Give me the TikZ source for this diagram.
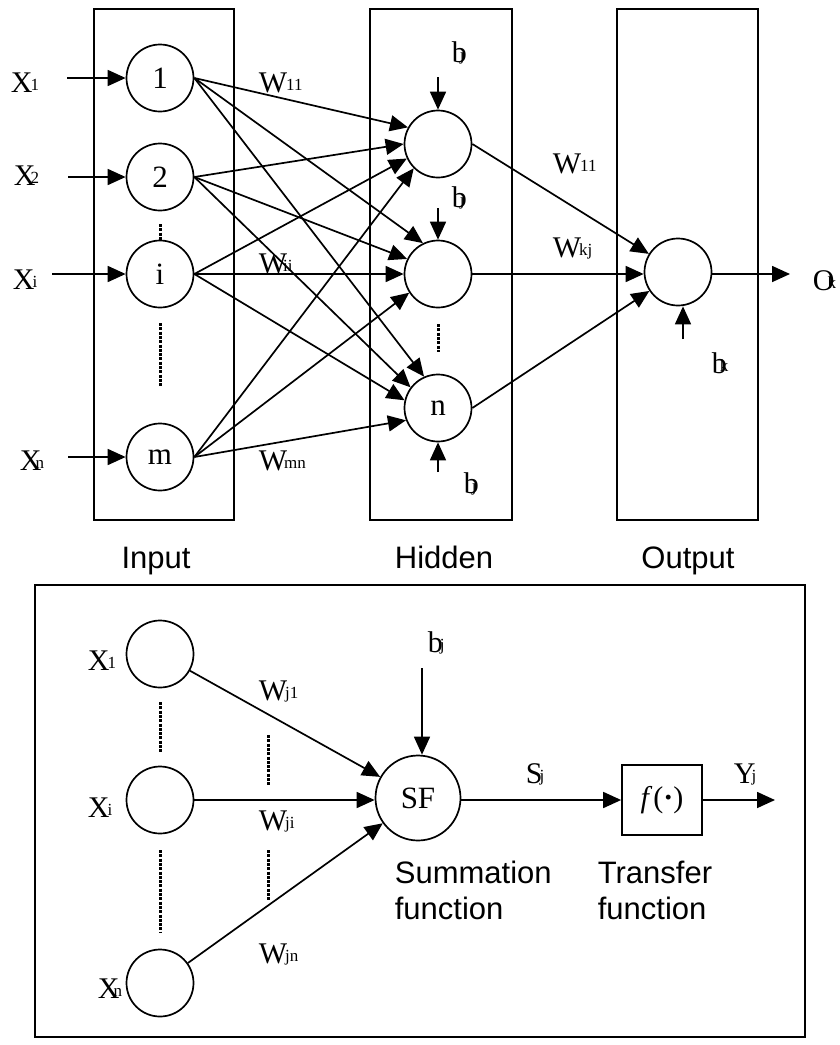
\documentclass[tikz,border=0pt]{standalone}
\usepackage{fontspec}
\setmainfont{Liberation Serif}
\newfontfamily\arialf{Liberation Sans}
\usetikzlibrary{arrows.meta}
\newcommand\lsub[3][-1pt]{#2\kern#1\raisebox{2pt}{\fontsize{17}{17}\selectfont #3}}
\begin{document}
\begin{tikzpicture}[x=1pt,y=-1pt,line width=1.7pt,
  neuron/.style={circle,draw,line width=1.7pt,minimum size=67pt,inner sep=0pt,font=\fontsize{31}{31}\selectfont},
  layerbox/.style={draw,line width=1.7pt},
  arr/.style={-{Triangle[length=18pt,width=16pt]}},
  lab/.style={inner sep=0pt,anchor=base west,font=\fontsize{30}{30}\selectfont},
  capt/.style={inner sep=0pt,anchor=base,font=\arialf\fontsize{31}{36}\selectfont},
  capml/.style={inner sep=0pt,anchor=north west,align=left,font=\arialf\fontsize{31}{36}\selectfont},
  dots/.style={line width=3pt,dash pattern=on 3pt off 1.3pt}]
\useasboundingbox (0,0) rectangle (840,1045);
% layer boxes
\draw[layerbox] (94,9) rectangle (234,520);
\draw[layerbox] (370,9) rectangle (512,520);
\draw[layerbox] (617,9) rectangle (758,520);
\draw[layerbox] (35,585) rectangle (805,1037);
% input neurons
\node[neuron] (i1) at (160,78) {1};
\node[neuron] (i2) at (160,177) {2};
\node[neuron] (ii) at (160,274) {i};
\node[neuron] (im) at (160,457) {m};
% hidden neurons
\node[neuron] (h1) at (438,144) {};
\node[neuron] (h2) at (438,274) {};
\node[neuron] (hn) at (438,408) {n};
% output neuron
\node[neuron] (o) at (678,272) {};
% input arrows
\coordinate (s1) at (67,78);
\coordinate (s2) at (68,177);
\coordinate (si) at (52,274);
\coordinate (sm) at (68,457);
\draw[arr] (s1) -- (i1);
\draw[arr] (s2) -- (i2);
\draw[arr] (si) -- (ii);
\draw[arr] (sm) -- (im);
\node[lab] (lx1) at (10,92) {\lsub[-2pt]{X}{1}};
\node[lab] (lx2) at (13,185) {\lsub[-5pt]{X}{2}};
\node[lab] (lxi) at (12,289) {\lsub[-2pt]{X}{i}};
\node[lab] (lxn) at (19,470) {\lsub[-6pt]{X}{n}};
% connections input -> hidden
\draw[arr] (i1.east) -- (h1.151);
\draw[arr] (i1.east) -- (h2.116);
\draw[arr] (i1.east) -- (hn.114);
\draw[arr] (i2.east) -- (h1.180);
\draw[arr] (i2.east) -- (h2.154);
\draw[arr] (i2.east) -- (hn.143);
\draw[arr] (ii.east) -- (h1.205);
\draw[arr] (ii.east) -- (h2.180);
\draw[arr] (ii.east) -- (hn.167);
\draw[arr] (im.east) -- (h1.225);
\draw[arr] (im.east) -- (h2.213);
\draw[arr] (im.east) -- (hn.201);
% hidden -> output
\draw[arr] (h1.east) -- (o);
\draw[arr] (h2.east) -- (o.west |- h2.east);
\draw[arr] (hn.east) -- (o);
\coordinate (oe) at (790,274);
\draw[arr] (o.east |- oe) -- (oe);
\node[lab] (lok) at (812,290) {\lsub[-7pt]{O}{k}};
% biases
\coordinate (b1) at (438,77);
\coordinate (b2) at (438,208);
\coordinate (b3) at (438,472);
\coordinate (bo) at (683,339);
\draw[arr] (b1) -- (h1.north);
\draw[arr] (b2) -- (h2.north);
\draw[arr] (b3) -- (hn.south);
\draw[arr] (bo) -- (bo |- o.south);
\node[lab] (lb1) at (451,62) {\lsub[-7pt]{b}{j}};
\node[lab] (lb2) at (451,207) {\lsub[-7pt]{b}{j}};
\node[lab] (lb3) at (463,493) {\lsub[-7pt]{b}{j}};
\node[lab] (lbk) at (711,373) {\lsub[-7pt]{b}{k}};
% weight labels
\node[lab] (lw11) at (258,92) {\lsub{W}{11}};
\node[lab] (lwii) at (258,273) {\lsub[-4pt]{W}{ii}};
\node[lab] (lwmn) at (258,470) {\lsub[-3pt]{W}{mn}};
\node[lab] (lw11b) at (552,173) {\lsub{W}{11}};
\node[lab] (lwkj) at (552,257) {\lsub[-2pt]{W}{kj}};
% dots
\draw[dots] (160,224) -- (160,241);
\draw[dots] (160,323) -- (160,386);
\draw[dots] (438,324) -- (438,352);
% captions
\node[capt] (cin) at (156,568) {Input};
\node[capt] (chid) at (444,568) {Hidden};
\node[capt] (cout) at (688,568) {Output};
% ---- bottom detail ----
\node[neuron] (x1) at (160,654) {};
\node[neuron] (xi) at (160,800) {};
\node[neuron] (xn) at (160,983) {};
\node[neuron,minimum size=85pt] (sf) at (418,798) {SF};
\node[draw,line width=1.7pt,minimum width=80pt,minimum height=70pt,inner sep=0pt,font=\fontsize{30}{30}\selectfont] (fb) at (662,800) {\textit{f}\kern1pt(\textbf{·})};
\node[lab] (bx1) at (87,670) {\lsub[-2pt]{X}{1}};
\node[lab] (bxi) at (87,817) {\lsub[-2pt]{X}{i}};
\node[lab] (bxn) at (97,998) {\lsub[-6pt]{X}{n}};
\draw[arr] (x1) -- (sf);
\draw[arr] (xi.east) -- (sf.west |- xi.east);
\draw[arr] (xn) -- (sf);
\draw[dots] (160,702) -- (160,753);
\draw[dots] (160,850) -- (160,933);
\draw[dots] (268,735) -- (268,785);
\draw[dots] (268,850) -- (268,900);
\node[lab] (bwj1) at (258,700) {\lsub[-2pt]{W}{j1}};
\node[lab] (bwji) at (258,830) {\lsub[-2pt]{W}{ji}};
\node[lab] (bwjn) at (258,963) {\lsub[-2pt]{W}{jn}};
\coordinate (bj) at (422,668);
\draw[arr] (bj) -- (bj |- sf.north);
\node[lab] (lbj) at (427,652) {\lsub[-3pt]{b}{j}};
\draw[arr] (sf.east |- fb.west) -- (fb.west);
\node[lab] (lsj) at (525,783) {\lsub[-3pt]{S}{j}};
\coordinate (ye) at (775,800);
\draw[arr] (fb.east) -- (ye);
\node[lab] (lyj) at (733,783) {\lsub[-4pt]{Y}{j}};
\node[capml] (csum) at (394,860) {Summation\\function};
\node[capml] (ctr) at (597,860) {Transfer\\function};
\end{tikzpicture}
\end{document}
